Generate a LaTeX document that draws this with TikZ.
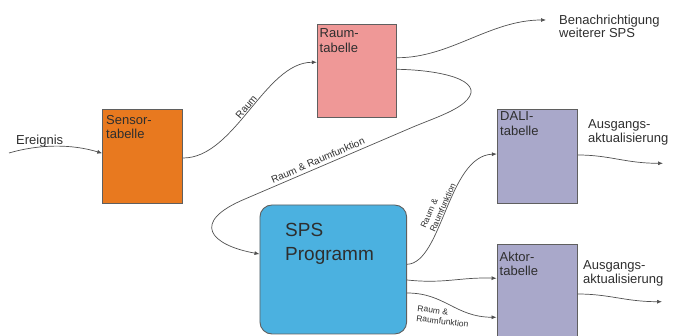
\documentclass[tikz,border=0pt]{standalone}
\usepackage{fontspec}
\setmainfont{Liberation Sans}
\usetikzlibrary{arrows.meta}
\definecolor{sensorc}{HTML}{E8791F}
\definecolor{raumc}{HTML}{EF9897}
\definecolor{tabc}{HTML}{A9A8CA}
\definecolor{spsc}{HTML}{4BB1E0}
\definecolor{boxline}{HTML}{5F5F5F}
\definecolor{connc}{HTML}{505050}
\definecolor{textc}{HTML}{2E2E2E}
\begin{document}
\begin{tikzpicture}[x=1pt,y=-1pt,
  box/.style={draw=boxline, line width=0.9pt, minimum width=80pt, minimum height=94pt, inner sep=0pt},
  conn/.style={draw=connc, line width=0.7pt, -{Latex[length=5pt,width=4pt]}},
  txt/.style={anchor=north west, inner sep=0pt, align=left, font=\fontsize{13}{14.5}\selectfont, text=textc},
  lbl/.style={font=\fontsize{10}{11}\selectfont, inner sep=1.5pt, text=textc},
  lbls/.style={font=\fontsize{8.5}{10}\selectfont, inner sep=1pt, align=left, text=textc}]
\useasboundingbox (0,0) rectangle (683,336);
% boxes
\node[box, fill=sensorc] (sensor) at (142.7,156.3) {};
\node[box, fill=raumc, minimum width=79.4pt, minimum height=93.3pt] (raum) at (357,70.7) {};
\node[box, fill=tabc] (dali) at (537.3,156.2) {};
\node[box, fill=tabc] (aktor) at (537,291) {};
\node[box, fill=spsc, rounded corners=12pt, minimum width=146.7pt, minimum height=129pt] (sps) at (333.3,269.5) {};
% box texts
\node[txt] (sensort) at (106,115) {Sensor-\\tabelle};
\node[txt] (raumt) at (319.5,28.5) {Raum-\\tabelle};
\node[txt] (dalit) at (500,111.7) {DALI-\\tabelle};
\node[txt] (aktort) at (499.5,251.7) {Aktor-\\tabelle};
\node[txt, font=\fontsize{19}{24}\selectfont] (spst) at (285,222.7) {SPS\\Programm};
% free texts
\node[txt] (ereignis) at (16,135) {Ereignis};
\node[txt, font=\fontsize{13}{13}\selectfont] (benach) at (559,15) {Benachrichtigung\\weiterer SPS};
\node[txt, font=\fontsize{13}{14.4}\selectfont] (ausg1) at (588,119.3) {Ausgangs-\\aktualisierung};
\node[txt, font=\fontsize{13}{13.8}\selectfont] (ausg2) at (583,260.7) {Ausgangs-\\aktualisierung};
% free ends
\coordinate (ein) at (9,153);
\coordinate (benend) at (546,20);
\coordinate (dout) at (663,163.3);
\coordinate (aout) at (662,301.7);
% connectors
\draw[conn] (ein) .. controls (40,144) and (72,144) .. ([yshift=3pt]sensor.west);
\draw[conn] ([yshift=-1.7pt]sensor.east) .. controls (235,158) and (265,62) .. node[lbl, pos=0.5, sloped, above, inner sep=1pt]{Raum} ([yshift=8.4pt]raum.west);
\draw[conn] ([yshift=13pt]raum.east) .. controls (450,58) and (490,20) .. (benend);
\draw[conn] ([yshift=1.4pt]raum.east) .. controls (440,70) and (485,80) .. (467,100)
  .. controls (457,111) and (432,119) .. (413,127)
  -- node[lbl, pos=0.55, sloped, above=1.5pt]{Raum \& Raumfunktion} (245,199)
  .. controls (190,222) and (210,245) .. ([yshift=15.5pt]sps.west);
\draw[conn] ([yshift=5.2pt]sps.east) .. controls (442,263) and (448,156) .. node[lbls, pos=0.5, sloped, above]{Raum \&\\Raumfunktion} ([yshift=2.2pt]dali.west);
\draw[conn] ([yshift=-10.5pt]sps.east) .. controls (445,284) and (460,277) .. ([yshift=12.7pt]aktor.west);
\draw[conn] ([yshift=-23.5pt]sps.east) .. controls (445,293) and (455,317) .. node[lbls, pos=0.4, yshift=-15pt, rotate=-7]{Raum \&\\Raumfunktion} ([yshift=-26.3pt]aktor.west);
\draw[conn] ([yshift=1.2pt]dali.east) .. controls (610,155) and (625,163.3) .. (dout);
\draw[conn] ([yshift=-3pt]aktor.east) .. controls (610,294) and (625,301.7) .. (aout);
\end{tikzpicture}
\end{document}
